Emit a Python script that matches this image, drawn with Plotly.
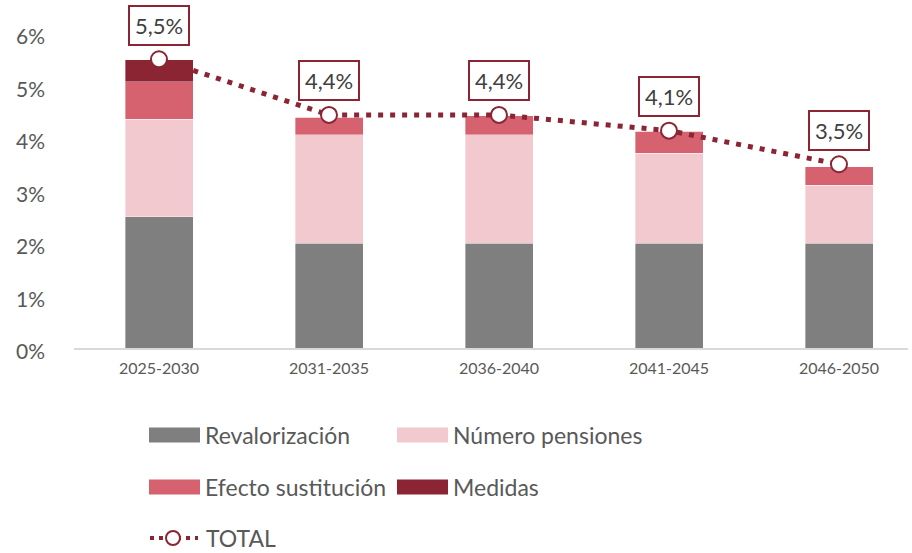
import plotly.graph_objects as go

categories = ["2025-2030", "2031-2035", "2036-2040", "2041-2045", "2046-2050"]
revalorizacion = [2.5, 2.0, 2.0, 2.0, 2.0]
numero_pensiones = [1.86, 2.06, 2.06, 1.71, 1.10]
efecto_sustitucion = [0.71, 0.34, 0.36, 0.42, 0.35]
medidas = [0.42, 0.0, 0.0, 0.0, 0.0]
total = [5.5, 4.44, 4.44, 4.14, 3.5]
y_ticks = [0, 1, 2, 3, 4, 5, 6]
y_tick_labels = ["0%", "1%", "2%", "3%", "4%", "5%", "6%"]

series_names = ["Revalorización", "Número pensiones", "Efecto sustitución", "Medidas"]
series_values = [revalorizacion, numero_pensiones, efecto_sustitucion, medidas]
series_colors = ["#7F7F7F", "#F2C9CE", "#D5626E", "#8B2433"]
total_name = "TOTAL"
line_color = "#8B2433"
text_color = "#595959"
FONT = "Lato, 'Open Sans', sans-serif"

W, H = 912, 553
L, R, T, B = 74, 4, 33, 205
pw, ph = W - L - R, H - T - B

fig = go.Figure()
for name, vals, col in zip(series_names, series_values, series_colors):
    fig.add_trace(go.Bar(x=categories, y=vals, name=name,
                         marker=dict(color=col, line=dict(width=0.6, color="rgba(255,255,255,0.6)")),
                         width=0.4, showlegend=False, hoverinfo="y+name"))

fig.add_trace(go.Scatter(x=categories, y=total, name=total_name, mode="lines+markers",
                         line=dict(color=line_color, width=5, dash="5px,7px"),
                         marker=dict(size=16, color="white", line=dict(color=line_color, width=2)),
                         showlegend=False))

for c, v in zip(categories, total):
    fig.add_annotation(x=c, y=v, yshift=34, text=f"{v:.1f}".replace(".", ",") + "%", showarrow=False,
                       font=dict(family=FONT, size=22, color="#404040"), bgcolor="white",
                       bordercolor=line_color, borderwidth=2, borderpad=5)

def px(x):
    return (x - L) / pw

def py(y):
    return (H - B - y) / ph

# custom legend
leg_items = [
    (series_names[0], series_colors[0], 149, 435),
    (series_names[1], series_colors[1], 397, 435),
    (series_names[2], series_colors[2], 149, 487),
    (series_names[3], series_colors[3], 397, 487),
]
for name, col, x0, yc in leg_items:
    fig.add_shape(type="rect", xref="paper", yref="paper", x0=px(x0), x1=px(x0 + 51),
                  y0=py(yc - 7.5), y1=py(yc + 7.5), fillcolor=col, line=dict(width=0))
    fig.add_annotation(xref="paper", yref="paper", x=px(x0 + 54), y=py(yc), xanchor="left", yanchor="middle",
                       text=name, showarrow=False, font=dict(family=FONT, size=23, color=text_color))

yt = 538
fig.add_shape(type="line", xref="paper", yref="paper", x0=px(150), x1=px(198), y0=py(yt), y1=py(yt),
              line=dict(color=line_color, width=4, dash="4px,5px"))
fig.add_shape(type="circle", xref="paper", yref="paper", x0=px(166), x1=px(180), y0=py(yt - 7), y1=py(yt + 7),
              fillcolor="white", line=dict(color=line_color, width=2))
fig.add_annotation(xref="paper", yref="paper", x=px(204), y=py(yt), xanchor="left", yanchor="middle",
                   text=total_name, showarrow=False, font=dict(family=FONT, size=23, color=text_color))

fig.update_layout(
    width=W, height=H, barmode="stack", bargap=0.6,
    margin=dict(l=L, r=R, t=T, b=B, autoexpand=False),
    plot_bgcolor="white", paper_bgcolor="white",
    font=dict(family=FONT, color=text_color),
    xaxis=dict(range=[-0.5, -0.5 + pw / 170], showline=True, linecolor="#D9D9D9", linewidth=1.5,
               showgrid=False, ticks="", tickfont=dict(size=16, color=text_color), ticklabelstandoff=5),
    yaxis=dict(range=[0, 6], tickmode="array", tickvals=y_ticks, ticktext=y_tick_labels, showgrid=False,
               zeroline=False, showline=False, ticks="", tickfont=dict(size=21, color=text_color),
               ticklabelstandoff=28, ticklabelshift=4),
)

fig.write_html("out.html", config={"displayModeBar": False},
               post_script="document.body.style.margin='0';document.body.style.padding='0';")
